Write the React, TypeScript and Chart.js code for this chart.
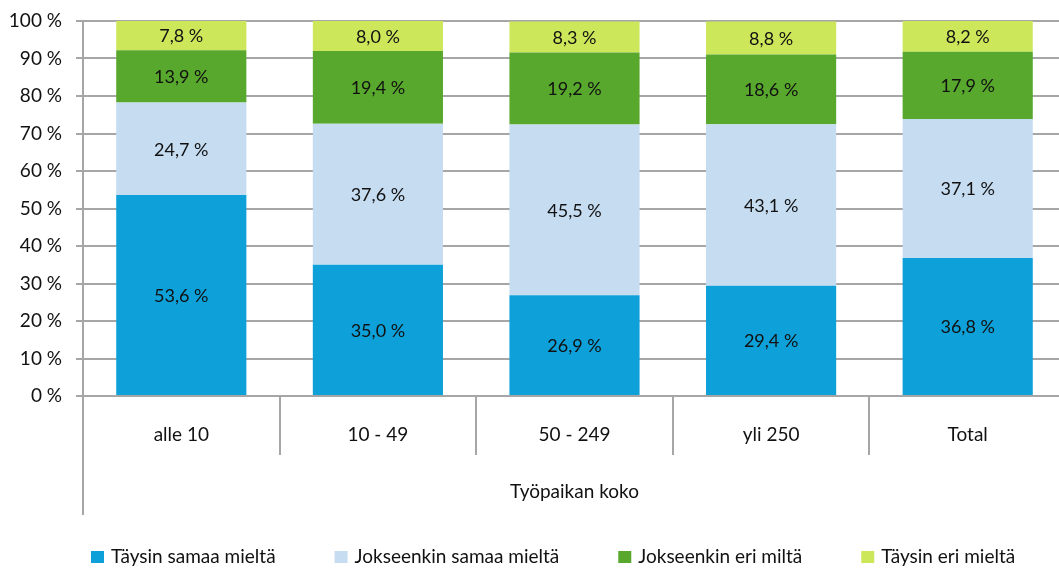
import React, { useEffect, useRef } from "react";
import { Chart, registerables } from "chart.js";

Chart.register(...registerables);

// Workplace size groups
const categories = ["alle 10", "10 - 49", "50 - 249", "yli 250", "Total"];

// Share of answers (%) per group
const taysinSamaa = [53.6, 35.0, 26.9, 29.4, 36.8];
const jokseenkinSamaa = [24.7, 37.6, 45.5, 43.1, 37.1];
const jokseenkinEri = [13.9, 19.4, 19.2, 18.6, 17.9];
const taysinEri = [7.8, 8.0, 8.3, 8.8, 8.2];

const seriesNames = [
  "Täysin samaa mieltä",
  "Jokseenkin samaa mieltä",
  "Jokseenkin eri miltä",
  "Täysin eri mieltä",
];
const seriesColors = ["#0ea0d9", "#c6dcf1", "#58a82d", "#cde75b"];

const yTicks = [0, 10, 20, 30, 40, 50, 60, 70, 80, 90, 100];
const axisTitle = "Työpaikan koko";

const FONT = "Lato, 'Open Sans', sans-serif";
const AXIS_GRAY = "#a6a6a6";

const fmt = (v: number) => v.toFixed(1).replace(".", ",") + " %";

// Writes each segment's value in the middle of the segment
const segmentLabels = {
  id: "segmentLabels",
  afterDatasetsDraw(chart: any) {
    const ctx = chart.ctx;
    ctx.save();
    ctx.font = `18px ${FONT}`;
    ctx.fillStyle = "#111";
    ctx.textAlign = "center";
    ctx.textBaseline = "middle";
    chart.data.datasets.forEach((ds: any, di: number) => {
      const meta = chart.getDatasetMeta(di);
      meta.data.forEach((el: any, i: number) => {
        const v = ds.data[i] as number;
        ctx.fillText(fmt(v), el.x, (el.y + el.base) / 2 + 1);
      });
    });
    ctx.restore();
  },
};

// Category separators below the axis and the lengthened value axis line
const axisFrame = {
  id: "axisFrame",
  afterDraw(chart: any) {
    const ctx = chart.ctx;
    const area = chart.chartArea;
    const x = chart.scales.x;
    const n = chart.data.labels.length;
    const step = (area.right - area.left) / n;
    ctx.save();
    ctx.strokeStyle = AXIS_GRAY;
    ctx.lineWidth = 2;
    ctx.beginPath();
    ctx.moveTo(area.left, area.bottom);
    ctx.lineTo(area.left, area.bottom + 119);
    for (let i = 1; i < n; i++) {
      const px = Math.round(x.left + step * i);
      ctx.moveTo(px, area.bottom);
      ctx.lineTo(px, area.bottom + 59);
    }
    ctx.stroke();
    ctx.restore();
  },
};

// Legend row along the bottom edge
const legendRow = {
  id: "legendRow",
  afterDraw(chart: any) {
    const ctx = chart.ctx;
    ctx.save();
    ctx.font = `19px ${FONT}`;
    ctx.textBaseline = "middle";
    ctx.textAlign = "left";
    let px = 91;
    const cy = 557;
    chart.data.datasets.forEach((ds: any) => {
      ctx.fillStyle = ds.backgroundColor;
      ctx.fillRect(px, cy - 6, 13, 12);
      ctx.fillStyle = "#111";
      ctx.fillText(ds.label, px + 20, cy);
      px += 20 + ctx.measureText(ds.label).width + 59;
    });
    ctx.restore();
  },
};

export default function App() {
  const canvasRef = useRef<HTMLCanvasElement | null>(null);

  useEffect(() => {
    if (!canvasRef.current) return;
    const values = [taysinSamaa, jokseenkinSamaa, jokseenkinEri, taysinEri];
    const chart = new Chart(canvasRef.current, {
      type: "bar",
      data: {
        labels: categories,
        datasets: values.map((d, i) => ({
          label: seriesNames[i],
          data: d,
          backgroundColor: seriesColors[i],
          borderWidth: 0,
          barPercentage: 0.662,
          categoryPercentage: 1,
        })),
      },
      options: {
        responsive: false,
        devicePixelRatio: 1,
        animation: false,
        layout: { padding: { top: 21, left: 0, right: 0, bottom: 0 } },
        plugins: {
          legend: { display: false },
          tooltip: { enabled: false },
        },
        scales: {
          x: {
            stacked: true,
            grid: { display: false, drawTicks: false },
            border: { display: true, color: AXIS_GRAY, width: 2 },
            ticks: {
              padding: 27,
              color: "#111",
              font: { family: FONT, size: 19 },
              maxRotation: 0,
            },
            title: {
              display: true,
              text: axisTitle,
              color: "#111",
              font: { family: FONT, size: 19 },
              padding: { top: 0, bottom: 65 },
            },
            afterFit(scale: any) {
              scale.height = 172;
              scale.paddingLeft = 0;
              scale.paddingRight = 0;
            },
          },
          y: {
            stacked: true,
            min: 0,
            max: 100,
            afterBuildTicks(scale: any) {
              scale.ticks = yTicks.map((v) => ({ value: v }));
            },
            grid: {
              color: AXIS_GRAY,
              lineWidth: 2,
              tickLength: 7,
            },
            border: { display: true, color: AXIS_GRAY, width: 2 },
            ticks: {
              padding: 14,
              color: "#111",
              font: { family: FONT, size: 19 },
              callback: (v: any) => `${v} %`,
            },
            afterFit(scale: any) {
              scale.width = 83;
              scale.paddingTop = 0;
              scale.paddingBottom = 0;
            },
          },
        },
      },
      plugins: [segmentLabels, axisFrame, legendRow],
    });
    return () => chart.destroy();
  }, []);

  return (
    <div
      style={{
        position: "fixed",
        left: 0,
        top: 0,
        width: 1059,
        height: 568,
        overflow: "hidden",
        background: "#fff",
      }}
    >
      <canvas ref={canvasRef} width={1066} height={568} style={{ display: "block" }} />
    </div>
  );
}
